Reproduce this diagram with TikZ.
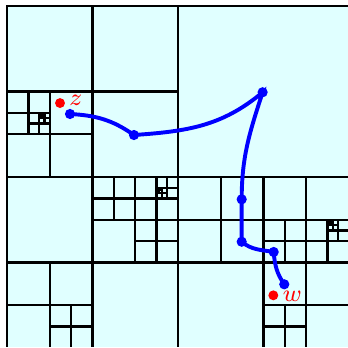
\documentclass[tikz,border=0pt]{standalone}
\definecolor{cellfill}{RGB}{224,255,255}
\tikzset{
  gridline/.style={line width=0.75pt, black},
  geo/.style={blue, line width=1.3pt},
  bdot/.style={circle, fill=blue, inner sep=0pt, minimum size=3.4pt},
  rdot/.style={circle, fill=red, inner sep=0pt, minimum size=3.3pt},
  lab/.style={text=red, font=\fontsize{8.5}{10}\selectfont, inner sep=0pt}
}
\begin{document}
\begin{tikzpicture}[x=1cm,y=1cm]
\useasboundingbox (-0.0819,0) rectangle (3.9883,4.0702);
\begin{scope}
\clip (-0.0819,0.012) rectangle (3.9883,4.0702);
\fill[cellfill] (0,0) rectangle (4,4);
\begin{scope}[shift={(0,4)},yscale=-1]
\foreach \x/\y/\s in {
 0/0/4,
 0/0/2, 2/0/2, 0/2/2, 2/2/2,
 0/0/1, 1/0/1, 0/1/1, 1/1/1,
 0/1/.5, .5/1/.5, 0/1.5/.5, .5/1.5/.5,
 0/1/.25, .25/1/.25, 0/1.25/.25, .25/1.25/.25,
 .25/1.25/.125, .375/1.25/.125, .25/1.375/.125, .375/1.375/.125,
 .375/1.25/.0625, .4375/1.25/.0625, .375/1.3125/.0625, .4375/1.3125/.0625,
 .375/1.25/.03125, .40625/1.25/.03125, .375/1.28125/.03125, .40625/1.28125/.03125,
 0/2/1, 1/2/1, 0/3/1, 1/3/1,
 1/2/.5, 1.5/2/.5, 1/2.5/.5, 1.5/2.5/.5,
 1/2/.25, 1.25/2/.25, 1/2.25/.25, 1.25/2.25/.25,
 1.5/2/.25, 1.75/2/.25, 1.5/2.25/.25, 1.75/2.25/.25,
 1.75/2/.125, 1.875/2/.125, 1.75/2.125/.125, 1.875/2.125/.125,
 1.75/2.125/.0625, 1.8125/2.125/.0625, 1.75/2.1875/.0625, 1.8125/2.1875/.0625,
 1.75/2.125/.03125, 1.78125/2.125/.03125, 1.75/2.15625/.03125, 1.78125/2.15625/.03125,
 1.5/2.5/.25, 1.75/2.5/.25, 1.5/2.75/.25, 1.75/2.75/.25,
 0/3/.5, .5/3/.5, 0/3.5/.5, .5/3.5/.5,
 .5/3.5/.25, .75/3.5/.25, .5/3.75/.25, .75/3.75/.25,
 2/2/1, 3/2/1, 2/3/1, 3/3/1,
 2/2/.5, 2.5/2/.5, 2/2.5/.5, 2.5/2.5/.5,
 3/2/.5, 3.5/2/.5, 3/2.5/.5, 3.5/2.5/.5,
 3/2.5/.25, 3.25/2.5/.25, 3/2.75/.25, 3.25/2.75/.25,
 3.5/2.5/.25, 3.75/2.5/.25, 3.5/2.75/.25, 3.75/2.75/.25,
 3.75/2.5/.125, 3.875/2.5/.125, 3.75/2.625/.125, 3.875/2.625/.125,
 3.75/2.5/.0625, 3.8125/2.5/.0625, 3.75/2.5625/.0625, 3.8125/2.5625/.0625,
 3.75/2.5/.03125, 3.78125/2.5/.03125, 3.75/2.53125/.03125, 3.78125/2.53125/.03125,
 3/3/.5, 3.5/3/.5, 3/3.5/.5, 3.5/3.5/.5,
 3/3.5/.25, 3.25/3.5/.25, 3/3.75/.25, 3.25/3.75/.25}
 { \draw[gridline] (\x,\y) rectangle ++(\s,\s); }
\end{scope}
\end{scope}
% path points
\node[bdot] (p1) at (0.737,2.737) {};
\node[bdot] (p2) at (1.485,2.491) {};
\node[bdot] (p3) at (2.990,2.991) {};
\node[bdot] (p4) at (2.745,1.739) {};
\node[bdot] (p5) at (2.745,1.243) {};
\node[bdot] (p6) at (3.119,1.123) {};
\node[bdot] (p7) at (3.243,0.745) {};
\draw[geo] (p1.center) to[out=-3,in=145] (p2.center)
           to[out=4,in=-140] (p3.center)
           to[out=-108,in=90] (p4.center)
           -- (p5.center)
           to[out=-40,in=170] (p6.center)
           to[out=-85,in=125] (p7.center);
% marked points
\node[rdot] (zd) at (0.620,2.865) {};
\node[lab] (zl) at (0.805,2.895) {$z$};
\node[rdot] (wd) at (3.115,0.616) {};
\node[lab] (wl) at (3.339,0.608) {$w$};
\end{tikzpicture}
\end{document}
